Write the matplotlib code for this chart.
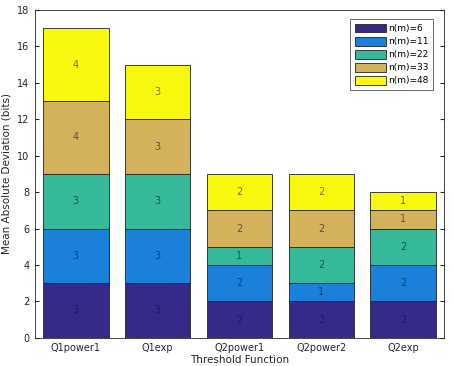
import matplotlib.pyplot as plt
import numpy as np

categories = ["Q1power1", "Q1exp", "Q2power1", "Q2power2", "Q2exp"]
series_names = ["n(m)=6", "n(m)=11", "n(m)=22", "n(m)=33", "n(m)=48"]
n6 = [3, 3, 2, 2, 2]
n11 = [3, 3, 2, 1, 2]
n22 = [3, 3, 1, 2, 2]
n33 = [4, 3, 2, 2, 1]
n48 = [4, 3, 2, 2, 1]

colors = ["#352a87", "#1a80d9", "#36b99a", "#d4b25c", "#f9f90f"]

fig = plt.figure(figsize=(4.54, 3.66), dpi=100)
ax = fig.add_axes([0.077, 0.077, 0.901, 0.896])

x = np.arange(1, len(categories) + 1)
bottom = np.zeros(len(categories))
for vals, name, c in zip([n6, n11, n22, n33, n48], series_names, colors):
    vals = np.array(vals, dtype=float)
    ax.bar(x, vals, 0.8, bottom=bottom, color=c, edgecolor="#222222",
           linewidth=0.6, label=name)
    for xi, b, v in zip(x, bottom, vals):
        ax.text(xi, b + v / 2, f"{int(v)}", ha="center", va="center",
                fontsize=7, color="#111133", alpha=0.6)
    bottom += vals

ax.set_xlim(0.5, 5.5)
ax.set_ylim(0, 18)
ax.set_yticks(range(0, 19, 2))
ax.set_xticks(x)
ax.set_xticklabels(categories)
ax.tick_params(direction="in", labelsize=7, colors="#262626", length=3,
               top=False, right=True, pad=4)
ax.tick_params(axis="x", length=0)
for s in ax.spines.values():
    s.set_color("#262626")
    s.set_linewidth(0.6)
ax.set_xlabel("Threshold Function", fontsize=7.5, color="#262626", labelpad=1)
ax.set_ylabel("Mean Absolute Deviation (bits)", fontsize=7.5, color="#262626", labelpad=4)

leg = ax.legend(loc="upper right", fontsize=6.5, frameon=True, fancybox=False,
                handlelength=3.4, handleheight=1.1, borderpad=0.5,
                labelspacing=0.4, handletextpad=0.3, bbox_to_anchor=(0.985, 0.985))
leg.get_frame().set_edgecolor("#262626")
leg.get_frame().set_linewidth(0.6)

fig.savefig("out.png", dpi=100)
